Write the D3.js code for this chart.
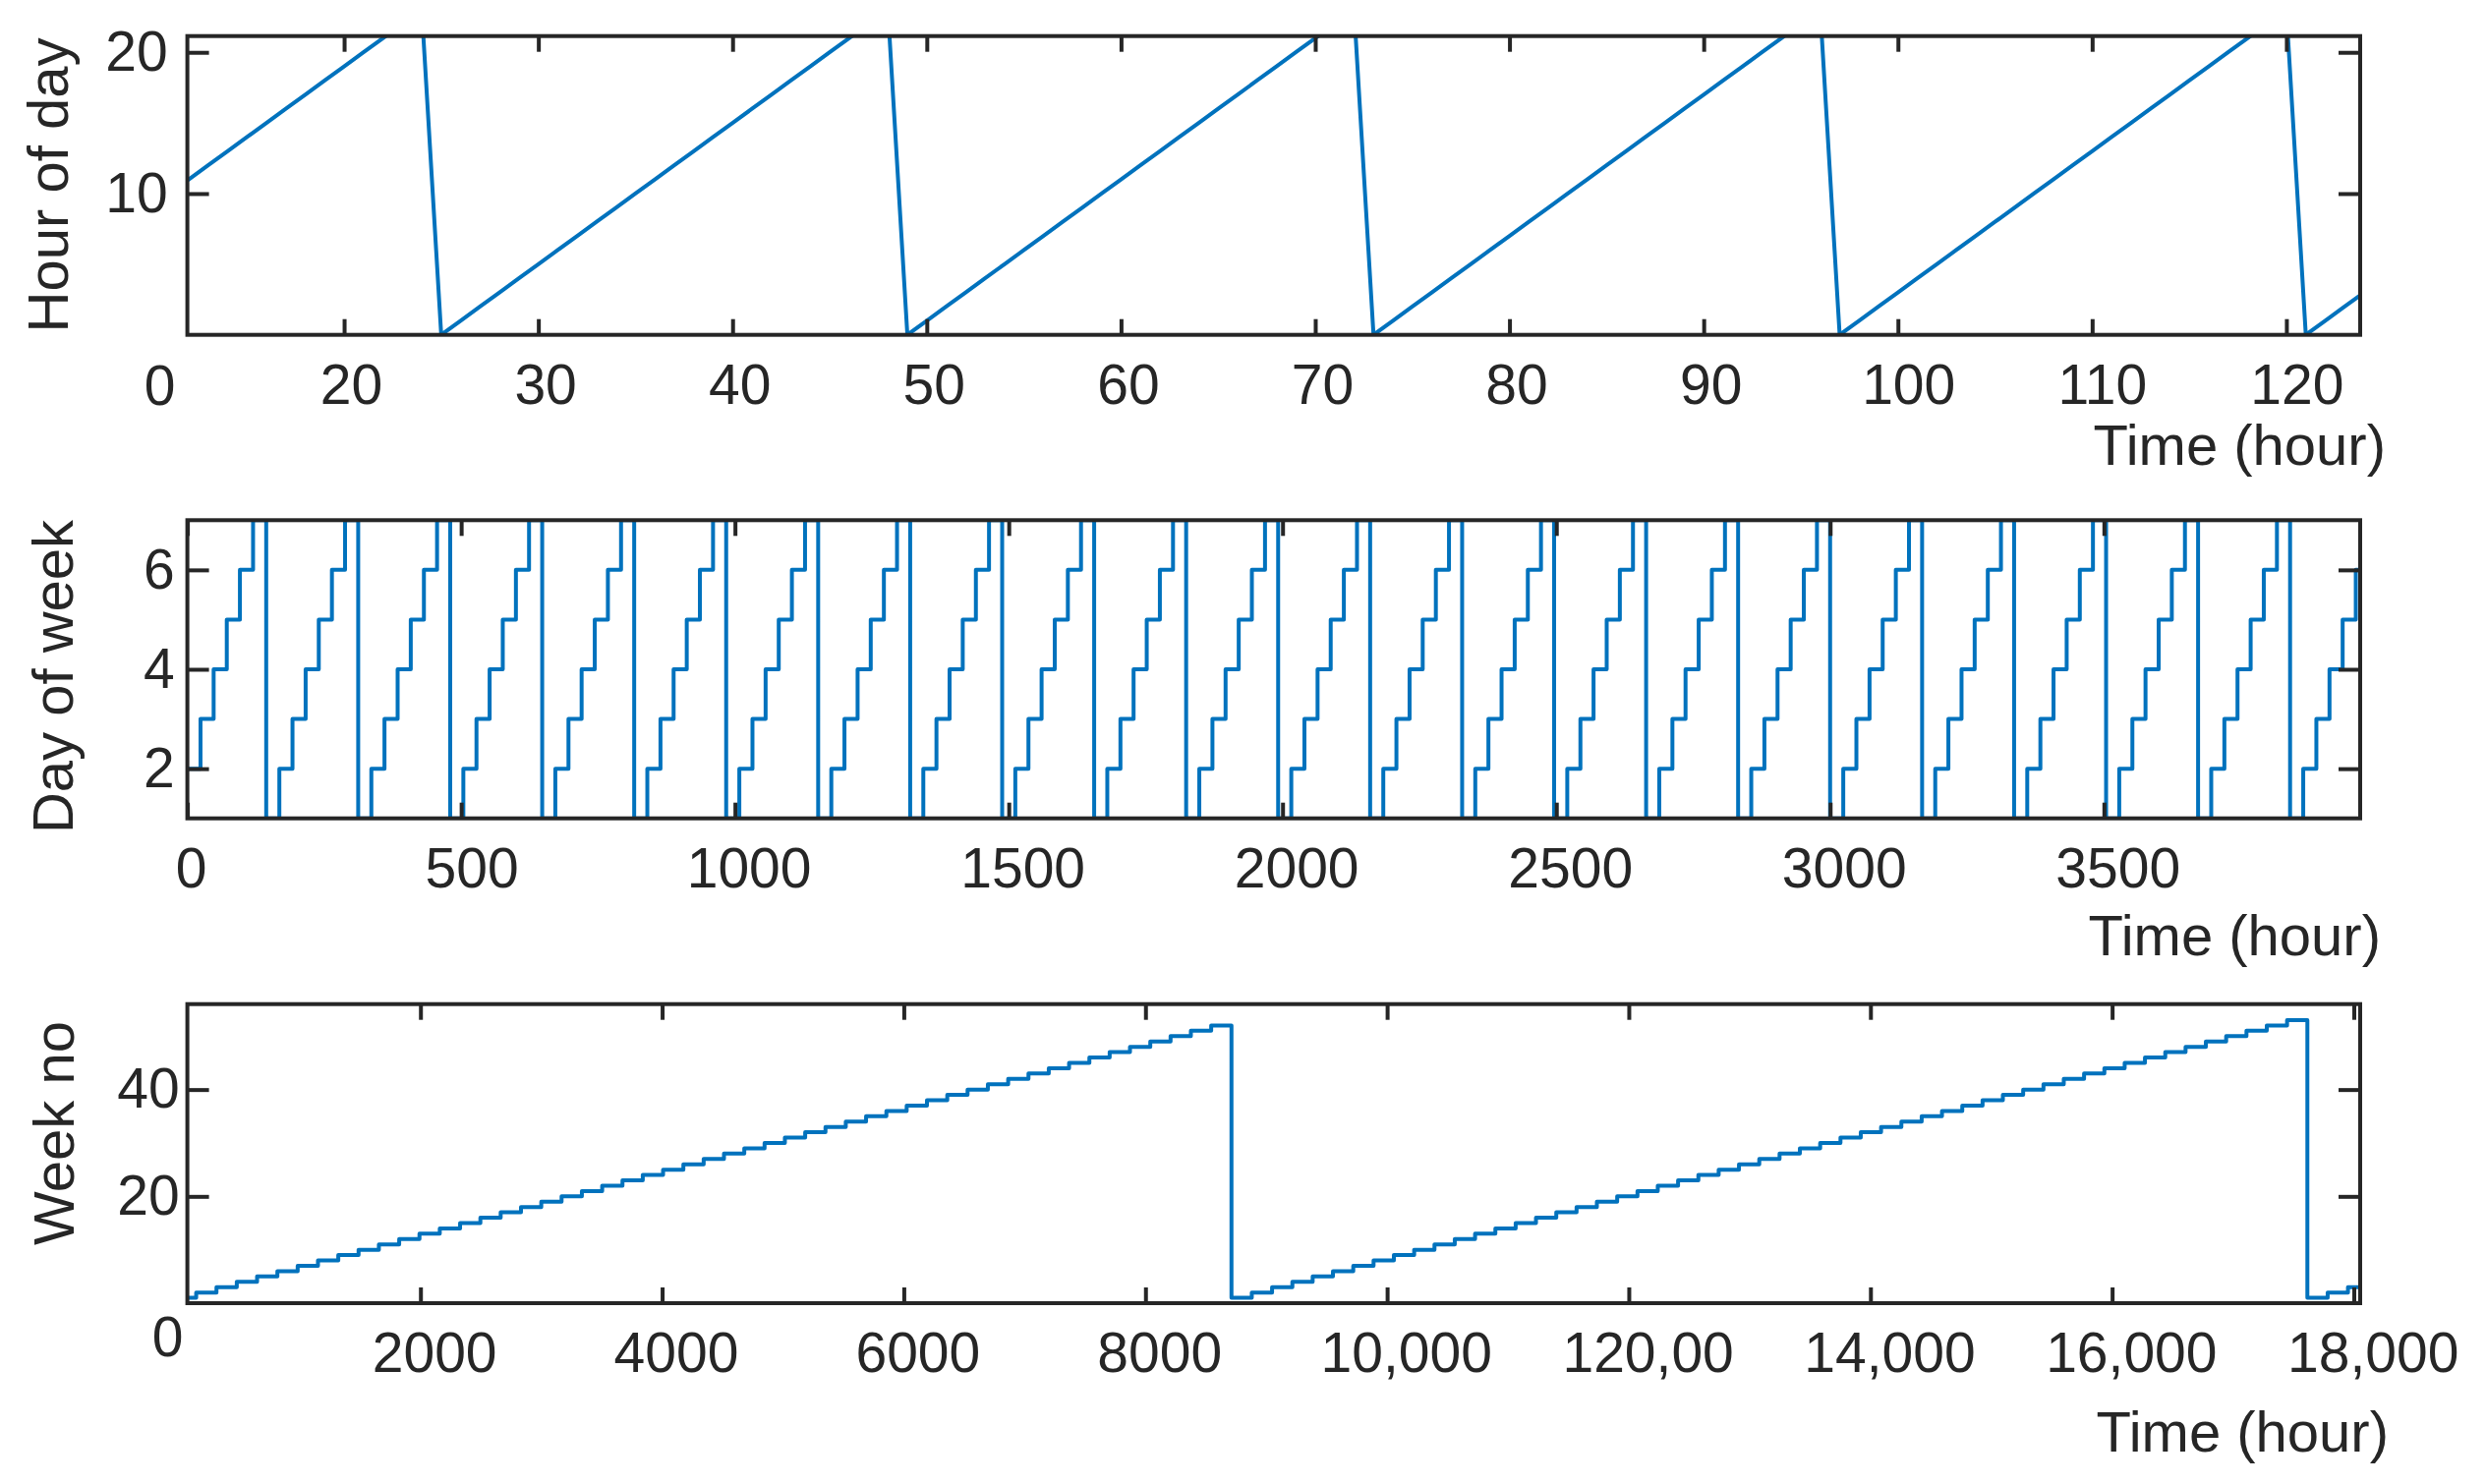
<!DOCTYPE html>
<html>
<head>
<meta charset="utf-8">
<title>Hour of day, day of week and week number against time</title>
<script src="https://cdn.jsdelivr.net/npm/d3@7"></script>
<style>
body {
  margin: 0;
  background-color: #ffffff;
}
svg text {
  font-family: "Liberation Sans", Arial, sans-serif;
  fill: #262626;
}
.axis text {
  font-size: 57px;
}
.axis line {
  stroke: #262626;
  stroke-width: 4;
}
.frame {
  fill: none;
  stroke: #262626;
  stroke-width: 4;
}
.series {
  fill: none;
  stroke: #0072bd;
  stroke-width: 4;
  stroke-linejoin: round;
}
.title {
  font-size: 58px;
}
</style>
</head>
<body>
<script>
// panel 1: hour of day, one sample per hour (t = 1, 2, ...)
var hourTicks = [20, 30, 40, 50, 60, 70, 80, 90, 100, 110, 120];
var hourTicksY = [10, 20];
var hourOfDay = [
  0, 1, 2, 3, 4, 5, 6, 7, 8, 9, 10, 11, 12, 13, 14, 15, 16, 17, 18, 19, 20, 21, 22, 23,
  0, 1, 2, 3, 4, 5, 6, 7, 8, 9, 10, 11, 12, 13, 14, 15, 16, 17, 18, 19, 20, 21, 22, 23,
  0, 1, 2, 3, 4, 5, 6, 7, 8, 9, 10, 11, 12, 13, 14, 15, 16, 17, 18, 19, 20, 21, 22, 23,
  0, 1, 2, 3, 4, 5, 6, 7, 8, 9, 10, 11, 12, 13, 14, 15, 16, 17, 18, 19, 20, 21, 22, 23,
  0, 1, 2, 3, 4, 5, 6, 7, 8, 9, 10, 11, 12, 13, 14, 15, 16, 17, 18, 19, 20, 21, 22, 23,
  0, 1, 2, 3
];

// panel 2: day of week, one value per day
var dayTicks = [0, 500, 1000, 1500, 2000, 2500, 3000, 3500];
var dayTicksY = [2, 4, 6];
var dayOfWeek = [
  2, 3, 4, 5, 6, 7, 1,  2, 3, 4, 5, 6, 7, 1,  2, 3, 4, 5, 6, 7, 1,
  2, 3, 4, 5, 6, 7, 1,  2, 3, 4, 5, 6, 7, 1,  2, 3, 4, 5, 6, 7, 1,
  2, 3, 4, 5, 6, 7, 1,  2, 3, 4, 5, 6, 7, 1,  2, 3, 4, 5, 6, 7, 1,
  2, 3, 4, 5, 6, 7, 1,  2, 3, 4, 5, 6, 7, 1,  2, 3, 4, 5, 6, 7, 1,
  2, 3, 4, 5, 6, 7, 1,  2, 3, 4, 5, 6, 7, 1,  2, 3, 4, 5, 6, 7, 1,
  2, 3, 4, 5, 6, 7, 1,  2, 3, 4, 5, 6, 7, 1,  2, 3, 4, 5, 6, 7, 1,
  2, 3, 4, 5, 6, 7, 1,  2, 3, 4, 5, 6, 7, 1,  2, 3, 4, 5, 6, 7, 1,
  2, 3, 4, 5, 6, 7, 1,  2, 3, 4, 5, 6, 7, 1,
  2, 3, 4, 5, 6
];

// panel 3: week number, one value per week (first week is partial)
var weekTicks = [2000, 4000, 6000, 8000, 10000, 12000, 14000, 16000, 18000];
var weekTickLabels = ["2000", "4000", "6000", "8000", "10,000", "120,00", "14,000", "16,000", "18,000"];
var weekTicksY = [20, 40];
var weekNoYear1 = [1, 2, 3, 4, 5, 6, 7, 8, 9, 10, 11, 12, 13, 14, 15, 16, 17, 18, 19, 20, 21, 22, 23, 24, 25, 26,
  27, 28, 29, 30, 31, 32, 33, 34, 35, 36, 37, 38, 39, 40, 41, 42, 43, 44, 45, 46, 47, 48, 49, 50, 51, 52];
var weekNoYear2 = [1, 2, 3, 4, 5, 6, 7, 8, 9, 10, 11, 12, 13, 14, 15, 16, 17, 18, 19, 20, 21, 22, 23, 24, 25, 26,
  27, 28, 29, 30, 31, 32, 33, 34, 35, 36, 37, 38, 39, 40, 41, 42, 43, 44, 45, 46, 47, 48, 49, 50, 51, 52, 53];
var weekNoYear3 = [1, 2, 3];
var firstWeekChange = 144;   // hour at which week 2 begins

var HOURS_PER_DAY = 24, HOURS_PER_WEEK = 168;

var left = 190.6, right = 2401;

var svg = d3.select("body").append("svg")
  .attr("width", 2529)
  .attr("height", 1510);

var hourPoints = hourOfDay.map(function(h, i){ return {x: i + 1, y: h}; });

var dayPoints = dayOfWeek.map(function(d, i){ return {x: i * HOURS_PER_DAY, y: d}; });
dayPoints.push({x: dayOfWeek.length * HOURS_PER_DAY, y: dayOfWeek[dayOfWeek.length - 1]});

var weekNo = weekNoYear1.concat(weekNoYear2, weekNoYear3);
var weekPoints = weekNo.map(function(w, i){
  return {x: i == 0 ? 0 : firstWeekChange + (i - 1) * HOURS_PER_WEEK, y: w};
});
weekPoints.push({x: weekPoints[weekPoints.length - 1].x + HOURS_PER_WEEK, y: weekNo[weekNo.length - 1]});

var panels = [
  {top: 36.7, bottom: 340.7, xDomain: [11.93, 123.8], yDomain: [0, 21.15],
   xTicks: hourTicks, yTicks: hourTicksY, points: hourPoints, curve: d3.curveLinear,
   yPad: 20, yTitle: "Hour of day", yTitleX: 69, yTitleY: 188.5,
   xTitleX: 2427, xTitleY: 473, origin: [-28, 71]},
  {top: 529.3, bottom: 832.7, xDomain: [0, 3968], yDomain: [1, 7],
   xTicks: dayTicks, yTicks: dayTicksY, points: dayPoints, curve: d3.curveStepAfter,
   yPad: 13, yTitle: "Day of week", yTitleX: 73.5, yTitleY: 688.5,
   xTitleX: 2422, xTitleY: 972},
  {top: 1021.7, bottom: 1326, xDomain: [71, 18053], yDomain: [0, 56],
   xTicks: weekTicks, xLabels: weekTickLabels, yTicks: weekTicksY, points: weekPoints, curve: d3.curveStepAfter,
   yPad: 8, yTitle: "Week no", yTitleX: 74.6, yTitleY: 1153,
   xTitleX: 2430, xTitleY: 1477, origin: [-20, 54]}
];

panels.forEach(drawPanel);

function drawPanel(p, i){
  var x = d3.scaleLinear().domain(p.xDomain).range([left, right]);
  var y = d3.scaleLinear().domain(p.yDomain).range([p.bottom, p.top]);
  var g = svg.append("g");

  g.append("clipPath")
    .attr("id", "clip" + i)
    .append("rect")
      .attr("x", left)
      .attr("y", p.top)
      .attr("width", right - left)
      .attr("height", p.bottom - p.top);

  g.append("path")
    .datum(p.points)
    .attr("class", "series")
    .attr("clip-path", "url(#clip" + i + ")")
    .attr("d", d3.line()
      .x(function(d){ return x(d.x); })
      .y(function(d){ return y(d.y); })
      .curve(p.curve));

  var label = function(d, k){ return p.xLabels ? p.xLabels[k] : String(d); };

  var xAxis = g.append("g")
    .attr("class", "axis")
    .attr("transform", "translate(0," + p.bottom + ")")
    .call(d3.axisBottom(x).tickValues(p.xTicks).tickFormat(label).tickSize(-16).tickPadding(29.5));
  // labels sit a little right of their ticks, as in the original figure
  xAxis.selectAll("text")
    .attr("dx", function(){ return 0.11 * this.getComputedTextLength(); });

  g.append("g")
    .attr("class", "axis")
    .attr("transform", "translate(0," + p.top + ")")
    .call(d3.axisTop(x).tickValues(p.xTicks).tickFormat("").tickSize(-16));

  g.append("g")
    .attr("class", "axis")
    .attr("transform", "translate(" + left + ",0)")
    .call(d3.axisLeft(y).tickValues(p.yTicks).tickFormat(String).tickSize(-22).tickPadding(p.yPad));

  g.append("g")
    .attr("class", "axis")
    .attr("transform", "translate(" + right + ",0)")
    .call(d3.axisRight(y).tickValues(p.yTicks).tickFormat("").tickSize(-22));

  g.selectAll(".axis").attr("color", "#262626");
  g.selectAll(".domain").remove();

  g.append("rect")
    .attr("class", "frame")
    .attr("x", left)
    .attr("y", p.top)
    .attr("width", right - left)
    .attr("height", p.bottom - p.top);

  if (p.origin) {
    g.append("text")
      .attr("x", left + p.origin[0])
      .attr("y", p.bottom + p.origin[1])
      .attr("text-anchor", "middle")
      .style("font-size", "57px")
      .text("0");
  }

  g.append("text")
    .attr("class", "title")
    .attr("transform", "translate(" + p.yTitleX + "," + p.yTitleY + ") rotate(-90)")
    .attr("text-anchor", "middle")
    .text(p.yTitle);

  g.append("text")
    .attr("class", "title")
    .attr("x", p.xTitleX)
    .attr("y", p.xTitleY)
    .attr("text-anchor", "end")
    .text("Time (hour)");
}
</script>
</body>
</html>
